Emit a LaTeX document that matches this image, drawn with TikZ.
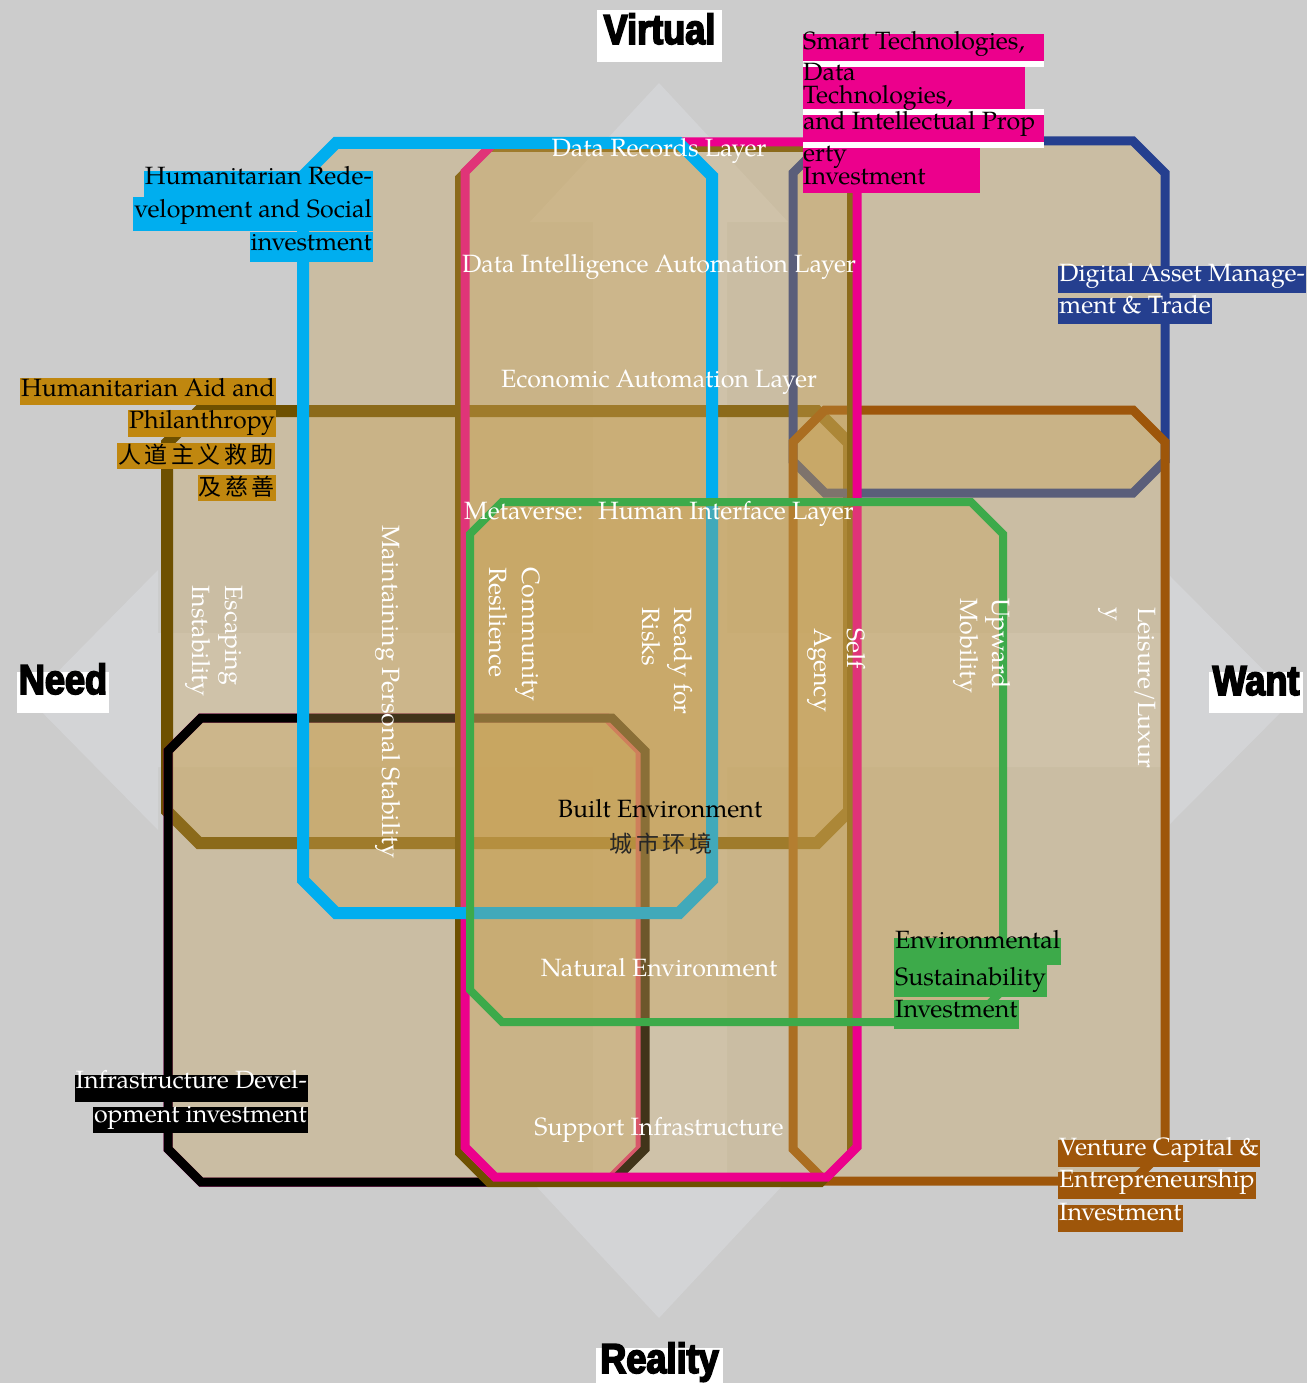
\documentclass[tikz,border=0pt]{standalone}
\usepackage{fontspec}
\setmainfont{texgyrepagella-regular.otf}[BoldFont=texgyrepagella-bold.otf]
\newfontfamily\headfont{Liberation Sans Bold}[FakeStretch=0.86,FakeBold=4]
\newfontfamily\cjk{Noto Sans CJK SC}
\definecolor{bgray}{HTML}{CCCCCC}
\definecolor{arrowc}{HTML}{D3D4D6}
\definecolor{zonef}{HTML}{C8A050}
\definecolor{cyanc}{HTML}{00AEEF}
\definecolor{magc}{HTML}{EC008C}
\definecolor{brownc}{HTML}{6E5000}
\definecolor{navyc}{HTML}{253F8F}
\definecolor{orangec}{HTML}{9E560A}
\definecolor{greenc}{HTML}{3DAA4A}
\definecolor{goldc}{HTML}{C0870F}
\newcommand{\octo}[6]{\draw[#1] ({#2+#6},#3) -- ({#4-#6},#3) -- (#4,{#3+#6}) -- (#4,{#5-#6}) -- ({#4-#6},#5) -- ({#2+#6},#5) -- (#2,{#5-#6}) -- (#2,{#3+#6}) -- cycle;}
\newcommand{\cjsp}{\hspace{3.5pt}}
\tikzset{
  zone/.style={fill=zonef, fill opacity=0.33, line width=9pt, line join=miter},
  wlab/.style={text=white, font=\fontsize{25}{32}\selectfont, inner sep=0pt, anchor=base},
  rlab/.style={text=white, font=\fontsize{25}{32}\selectfont, inner sep=0pt, rotate=-90, anchor=base west},
  tag/.style={font=\fontsize{25}{32}\selectfont, inner xsep=1pt, inner ysep=0pt},
  cjktag/.style={font=\cjk\fontsize{23}{28}\selectfont, inner xsep=1pt, inner ysep=0pt},
  head/.style={fill=white, text=black, font=\headfont\fontsize{42}{50}\selectfont, inner xsep=0pt, inner ysep=0pt, anchor=base}
}
\begin{document}
\begin{tikzpicture}[x=1pt,y=-1pt]
\useasboundingbox (0,0) rectangle (1307,1383);
\fill[bgray] (0,0) rectangle (1307,1383);
% background four-way arrow
\fill[arrowc] (659,83) -- (788,222) -- (727,222) -- (727,633) -- (1170,633) -- (1170,576) -- (1293,700) -- (1170,824) -- (1170,767) -- (727,767) -- (727,1185) -- (783,1185) -- (659,1318) -- (535,1185) -- (593,1185) -- (593,767) -- (158,767) -- (158,830) -- (30,700) -- (158,570) -- (158,633) -- (593,633) -- (593,222) -- (530,222) -- cycle;
% zones
\octo{zone, draw=brownc, line width=12pt}{167}{411}{849}{843}{32}
\octo{draw=magc, line width=9pt}{168}{718}{640}{1182}{33}
\octo{zone, draw=black}{168}{718}{645}{1182}{33}
\octo{zone, draw=navyc}{793}{141}{1165}{493}{32}
\octo{zone, draw=orangec}{793}{410}{1165}{1181}{32}
\octo{draw=brownc, line width=8pt}{459}{148}{851}{1183}{30}
\octo{zone, draw=magc}{465}{142}{857}{1177}{30}
\octo{zone, draw=cyanc, line width=12pt}{303}{143}{712}{913}{33}
\octo{zone, draw=greenc, line width=8pt}{470}{502}{1003}{1022}{32}
% layer labels
\node[wlab] (l1) at (659,157) {Data Records Layer};
\node[wlab] (l2) at (659,272) {Data Intelligence Automation Layer};
\node[wlab] (l3) at (659,387) {Economic Automation Layer};
\node[wlab] (l4) at (659,519) {Metaverse:~ Human Interface Layer};
\node[wlab, text=black] (l5) at (660,817) {Built Environment};
\node[wlab, text=black!85, font=\cjk\fontsize{23}{28}\selectfont] (l5c) at (661,852) {城\cjsp{}市\cjsp{}环\cjsp{}境};
\node[wlab] (l6) at (659,976) {Natural Environment};
\node[wlab] (l7) at (659,1135) {Support Infrastructure};
% rotated labels
\node[rlab] (r1a) at (225,585) {Escaping};
\node[rlab] (r1b) at (192,585) {Instability};
\node[rlab] (r2) at (382,525) {Maintaining Personal Stability};
\node[rlab] (r3a) at (522,567) {Community};
\node[rlab] (r3b) at (489,567) {Resilience};
\node[rlab] (r4a) at (674,607) {Ready for};
\node[rlab] (r4b) at (642,607) {Risks};
\node[rlab] (r5a) at (847,628) {Self};
\node[rlab] (r5b) at (814,628) {Agency};
\node[rlab] (r6a) at (992,598) {Upward};
\node[rlab] (r6b) at (960,598) {Mobility};
\node[rlab] (r7a) at (1138,607) {Leisure/Luxur};
\node[rlab] (r7b) at (1105,607) {y};
% Humanitarian Redevelopment
\node[tag, fill=cyanc, anchor=base east, text height=14pt, text depth=12pt] (hr1) at (373,185) {Humanitarian Rede-};
\node[tag, fill=cyanc, anchor=base east, text height=20pt, text depth=14pt] (hr2) at (373,217) {velopment and Social};
\node[tag, fill=cyanc, anchor=base east, text height=18pt, text depth=12pt] (hr3) at (373,250) {investment};
% Humanitarian Aid
\node[tag, fill=goldc, anchor=base east, text height=18pt, text depth=9pt] (ha1) at (276,396) {Humanitarian Aid and};
\node[tag, fill=goldc, anchor=base east, text height=18pt, text depth=9pt] (ha2) at (276,428) {Philanthropy};
\node[cjktag, fill=goldc, anchor=base east, text height=20pt, text depth=6pt] (ha3) at (275,463) {人\cjsp{}道\cjsp{}主\cjsp{}义\cjsp{}救\cjsp{}助};
\node[cjktag, fill=goldc, anchor=base east, text height=20pt, text depth=6pt] (ha4) at (276,495) {及\cjsp{}慈\cjsp{}善};
% Smart Technologies
\fill[magc] (803,34) rectangle (1044,61);
\fill[white] (803,61) rectangle (1044,67);
\fill[magc] (803,67) rectangle (1025,109);
\fill[white] (803,109) rectangle (1044,115);
\fill[magc] (803,115) rectangle (1044,142);
\fill[white] (803,142) rectangle (1044,148);
\fill[magc] (803,148) rectangle (980,193);
\node[tag, anchor=base west, inner xsep=0pt] (st1) at (803,50) {Smart Technologies,};
\node[tag, anchor=base west, inner xsep=0pt] (st2) at (803,81) {Data};
\node[tag, anchor=base west, inner xsep=0pt] (st3) at (803,104) {Technologies,};
\node[tag, anchor=base west, inner xsep=0pt] (st4) at (803,130) {and Intellectual Prop};
\node[tag, anchor=base west, inner xsep=0pt] (st5) at (803,162) {erty};
\node[tag, anchor=base west, inner xsep=0pt] (st6) at (803,185) {Investment};
% Digital Asset
\node[tag, fill=navyc, text=white, anchor=base west, text height=15pt, text depth=12pt] (da1) at (1058,281) {Digital Asset Manage-};
\node[tag, fill=navyc, text=white, anchor=base west, text height=15pt, text depth=11pt] (da2) at (1058,313) {ment \& Trade};
% Environmental
\node[tag, fill=greenc, anchor=base west, text height=10pt, text depth=17pt] (en1) at (894,948) {Environmental};
\node[tag, fill=greenc, anchor=base west, text height=20pt, text depth=12pt] (en2) at (894,985) {Sustainability};
\node[tag, fill=greenc, anchor=base west, text height=17pt, text depth=12pt] (en3) at (894,1017) {Investment};
% Infrastructure
\node[tag, fill=black, text=white, anchor=base east, text height=13pt, text depth=14pt] (in1) at (308,1088) {Infrastructure Devel-};
\node[tag, fill=black, text=white, anchor=base east, text height=15pt, text depth=11pt] (in2) at (308,1122) {opment investment};
% Venture
\node[tag, fill=orangec, text=white, anchor=base west, text height=15pt, text depth=12pt] (vc1) at (1058,1155) {Venture Capital \&};
\node[tag, fill=orangec, text=white, anchor=base west, text height=15pt, text depth=12pt] (vc2) at (1058,1187) {Entrepreneurship};
\node[tag, fill=orangec, text=white, anchor=base west, text height=15pt, text depth=12pt] (vc3) at (1058,1220) {Investment};
% axis headings
\node[head, text height=34pt, text depth=18pt, minimum width=125pt] (virtual) at (659.5,44) {Virtual};
\node[head, text height=22pt, text depth=19pt, minimum width=92pt] (need) at (63,694) {Need};
\node[head, text height=23pt, text depth=18pt, minimum width=94pt] (want) at (1256,695) {Want};
\node[head, text height=25pt, text depth=12pt, minimum width=127pt] (reality) at (659.5,1373) {Reality};
\end{tikzpicture}
\end{document}
